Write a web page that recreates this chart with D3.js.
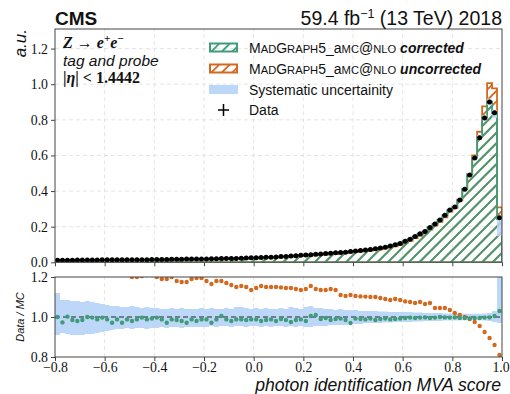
<!DOCTYPE html>
<html lang="en">
<head>
<meta charset="utf-8">
<script src="https://cdn.jsdelivr.net/npm/d3@7"></script>
<style type="text/css">
body { margin: 0; background: #fff; }
svg text { fill: #111; }
.sans { font-family: "Liberation Sans", Arial, sans-serif; }
</style>
</head>
<body>
<script type="text/javascript">

// bin edges: 90 bins of 0.02 between -0.8 and 1.0
var binEdges = d3.range(91).map(function(i) { return -0.8 + 0.02 * i; });
var xTicks = [-0.8, -0.6, -0.4, -0.2, 0.0, 0.2, 0.4, 0.6, 0.8, 1.0];
var yTicksTop = [0.0, 0.2, 0.4, 0.6, 0.8, 1.0, 1.2];
var yTicksRatio = [0.8, 1.0, 1.2];

// normalised data (a.u.)
var dataVals = [
  0.012,0.012,0.012,0.012,0.013,0.013,0.013,0.013,0.013,0.014,
  0.014,0.014,0.014,0.014,0.015,0.015,0.015,0.015,0.015,0.016,
  0.016,0.016,0.016,0.017,0.017,0.017,0.018,0.018,0.018,0.019,
  0.019,0.020,0.020,0.021,0.021,0.022,0.022,0.023,0.024,0.025,
  0.026,0.027,0.028,0.029,0.030,0.032,0.033,0.035,0.037,0.039,
  0.041,0.043,0.045,0.047,0.049,0.051,0.053,0.055,0.057,0.060,
  0.063,0.066,0.069,0.072,0.076,0.080,0.085,0.091,0.098,0.106,
  0.118,0.130,0.145,0.160,0.173,0.196,0.215,0.238,0.264,0.294,
  0.310,0.350,0.410,0.490,0.585,0.700,0.810,0.900,0.840,0.250];

// data / MC, corrected
var ratioCorr = [
  1.000,0.973,1.002,0.985,0.980,0.985,1.000,0.997,0.988,0.997,
  0.988,0.971,0.988,0.971,0.988,0.980,0.988,0.997,0.988,0.992,
  0.997,0.988,0.971,0.988,0.985,0.980,0.971,0.988,0.980,0.988,
  0.988,0.971,0.988,1.005,0.988,0.980,0.988,0.988,0.985,0.988,
  0.988,0.980,0.985,0.988,0.980,0.990,0.985,0.975,0.985,0.988,
  0.980,1.005,1.010,0.990,0.995,0.985,0.990,0.992,0.985,0.970,
  0.992,0.990,0.988,0.992,0.985,0.990,0.992,0.988,0.990,0.992,
  0.995,0.997,0.995,0.997,0.998,0.995,0.997,1.000,0.998,0.997,
  0.998,0.995,0.995,0.993,0.995,0.995,0.997,0.998,1.005,1.030];

// data / MC, uncorrected
var ratioUncorr = [
  1.40,1.38,1.36,1.34,1.33,1.31,1.30,1.29,1.28,1.27,
  1.26,1.25,1.24,1.23,1.22,1.20,1.20,1.205,1.21,1.21,
  1.20,1.19,1.19,1.20,1.18,1.175,1.175,1.19,1.195,1.195,
  1.18,1.165,1.18,1.18,1.17,1.16,1.15,1.155,1.15,1.135,
  1.145,1.155,1.15,1.15,1.15,1.148,1.145,1.145,1.14,1.135,
  1.14,1.155,1.14,1.135,1.135,1.14,1.135,1.11,1.105,1.11,
  1.105,1.103,1.102,1.10,1.10,1.095,1.09,1.085,1.09,1.085,
  1.078,1.075,1.07,1.075,1.065,1.07,1.045,1.045,1.045,1.035,
  1.02,1.01,1.0,0.99,0.975,0.955,0.925,0.895,0.86,0.81];

// systematic uncertainty (relative), up and down
var sysUp = [
  0.12,0.085,0.085,0.08,0.08,0.075,0.08,0.075,0.07,0.065,
  0.06,0.055,0.055,0.05,0.05,0.055,0.05,0.045,0.05,0.045,
  0.045,0.04,0.04,0.045,0.04,0.045,0.04,0.04,0.04,0.045,
  0.04,0.045,0.04,0.04,0.045,0.04,0.05,0.05,0.045,0.04,
  0.045,0.04,0.045,0.04,0.04,0.045,0.04,0.05,0.045,0.04,
  0.05,0.055,0.045,0.045,0.04,0.04,0.035,0.04,0.035,0.035,
  0.035,0.03,0.03,0.03,0.03,0.028,0.028,0.025,0.025,0.025,
  0.025,0.025,0.022,0.022,0.02,0.02,0.02,0.02,0.018,0.018,
  0.018,0.016,0.016,0.016,0.016,0.016,0.018,0.02,0.03,0.40];
var sysDn = [
  0.09,0.08,0.085,0.09,0.09,0.09,0.085,0.085,0.08,0.075,
  0.07,0.065,0.06,0.06,0.055,0.06,0.055,0.055,0.06,0.055,
  0.055,0.05,0.055,0.05,0.05,0.055,0.05,0.05,0.05,0.05,
  0.05,0.045,0.05,0.045,0.045,0.05,0.045,0.045,0.05,0.045,
  0.045,0.05,0.045,0.05,0.045,0.045,0.05,0.045,0.05,0.045,
  0.05,0.05,0.045,0.045,0.045,0.04,0.04,0.04,0.04,0.035,
  0.035,0.035,0.03,0.03,0.03,0.03,0.028,0.028,0.025,0.025,
  0.025,0.025,0.022,0.022,0.02,0.02,0.02,0.02,0.018,0.018,
  0.018,0.016,0.016,0.016,0.016,0.016,0.018,0.02,0.025,0.03];

var green = "#3f9c78", orange = "#d2691e", blue = "#bcd7f8";
var serif = "'Liberation Serif', 'DejaVu Serif', serif";

var width = 510, height = 394;
var svg = d3.select("body").append("svg")
  .attr("width", width).attr("height", height);

var x = d3.scaleLinear().domain([-0.8, 1.0]).range([55, 502]);
var yTop = d3.scaleLinear().domain([0, 1.31]).range([262.3, 29]);
var yRat = d3.scaleLinear().domain([0.8, 1.2]).range([357, 277]);

// MC histograms as implied by data / ratio
var mcCorr = dataVals.map(function(d, i) { return d / ratioCorr[i]; });
var mcUncorr = dataVals.map(function(d, i) { return d / ratioUncorr[i]; });

var defs = svg.append("defs");
function hatch(id, col) {
  var p = defs.append("pattern").attr("id", id)
    .attr("patternUnits", "userSpaceOnUse")
    .attr("width", 7.4).attr("height", 7.4)
    .attr("patternTransform", "rotate(45)");
  p.append("line").attr("x1", 0).attr("y1", 0).attr("x2", 0).attr("y2", 7.4)
    .attr("stroke", col).attr("stroke-width", 3.6);
}
hatch("hatchG", green);
hatch("hatchO", orange);
defs.append("clipPath").attr("id", "clipTop").append("rect")
  .attr("x", 55).attr("y", 29).attr("width", 447).attr("height", 233.3);
defs.append("clipPath").attr("id", "clipRat").append("rect")
  .attr("x", 55).attr("y", 277).attr("width", 447).attr("height", 80);

function stepPts(lo, hi) {
  return binEdges.map(function(e, i) {
    var k = Math.min(i, lo.length - 1);
    return { x: e, lo: lo[k], hi: hi[k] };
  });
}
var zeros = dataVals.map(function() { return 0; });

function grid(g, yScale, yt) {
  g.selectAll(".gx").data(xTicks.slice(1, -1)).enter().append("line")
    .attr("x1", function(d) { return x(d); }).attr("x2", function(d) { return x(d); })
    .attr("y1", yScale.range()[0]).attr("y2", yScale.range()[1])
    .attr("stroke", "#ddd").attr("stroke-dasharray", "4,3").attr("stroke-width", 0.8);
  g.selectAll(".gy").data(yt).enter().append("line")
    .attr("x1", 55).attr("x2", 502)
    .attr("y1", function(d) { return yScale(d); }).attr("y2", function(d) { return yScale(d); })
    .attr("stroke", "#ddd").attr("stroke-dasharray", "4,3").attr("stroke-width", 0.8);
}
function styleAxis(g) {
  g.select(".domain").remove();
  g.attr("font-family", null).attr("font-size", null);
  g.selectAll(".tick line").attr("stroke", "#444");
  g.selectAll(".tick text").attr("fill", "#222")
    .style("font-family", serif).style("font-size", "13.8px");
}

// ---------- upper panel ----------
var topG = svg.append("g");
grid(topG, yTop, yTicksTop.slice(1));
var plotTop = topG.append("g").attr("clip-path", "url(#clipTop)");

var areaTop = d3.area().curve(d3.curveStepAfter)
  .x(function(d) { return x(d.x); })
  .y0(function(d) { return yTop(d.lo); })
  .y1(function(d) { return yTop(d.hi); });

plotTop.append("path").datum(stepPts(zeros, mcUncorr)).attr("d", areaTop)
  .attr("fill", "url(#hatchO)").attr("stroke", orange).attr("stroke-width", 1.8);
plotTop.append("path").datum(stepPts(zeros, mcCorr)).attr("d", areaTop)
  .attr("fill", "url(#hatchG)").attr("stroke", green).attr("stroke-width", 1.8);
plotTop.append("path")
  .datum(stepPts(mcCorr.map(function(d, i) { return d * (1 - sysUp[i]); }),
                 mcCorr.map(function(d, i) { return d * (1 + sysDn[i]); })))
  .attr("d", areaTop).attr("fill", blue).attr("opacity", 0.85);

var pts = plotTop.selectAll(".pt").data(dataVals).enter().append("g");
pts.append("line")
  .attr("x1", function(d, i) { return x(binEdges[i]); })
  .attr("x2", function(d, i) { return x(binEdges[i + 1]); })
  .attr("y1", function(d) { return yTop(d); }).attr("y2", function(d) { return yTop(d); })
  .attr("stroke", "#000").attr("stroke-width", 1.4);
pts.append("circle")
  .attr("cx", function(d, i) { return x(binEdges[i] + 0.01); })
  .attr("cy", function(d) { return yTop(d); })
  .attr("r", 2.5).attr("fill", "#000");

topG.append("g").attr("transform", "translate(55,0)")
  .call(d3.axisLeft(yTop).tickValues(yTicksTop).tickFormat(d3.format(".1f")).tickSize(4).tickPadding(3))
  .call(styleAxis);
topG.append("g").attr("transform", "translate(0,262.3)")
  .call(d3.axisBottom(x).tickValues(xTicks).tickFormat("").tickSize(4))
  .call(styleAxis);
topG.append("rect").attr("x", 55).attr("y", 29).attr("width", 447).attr("height", 233.3)
  .attr("fill", "none").attr("stroke", "#444").attr("stroke-width", 1);

// ---------- ratio panel ----------
var botG = svg.append("g");
grid(botG, yRat, []);
var plotRat = botG.append("g").attr("clip-path", "url(#clipRat)");
var areaRat = d3.area().curve(d3.curveStepAfter)
  .x(function(d) { return x(d.x); })
  .y0(function(d) { return yRat(d.lo); })
  .y1(function(d) { return yRat(d.hi); });
plotRat.append("path")
  .datum(stepPts(sysDn.map(function(d) { return 1 - d; }), sysUp.map(function(d) { return 1 + d; })))
  .attr("d", areaRat).attr("fill", blue);
plotRat.append("line").attr("x1", 55).attr("x2", 502)
  .attr("y1", yRat(1)).attr("y2", yRat(1))
  .attr("stroke", "#222").attr("stroke-dasharray", "5,3").attr("stroke-width", 1.2);
plotRat.selectAll(".ru").data(ratioUncorr).enter().append("circle")
  .attr("cx", function(d, i) { return x(binEdges[i] + 0.01); })
  .attr("cy", function(d) { return yRat(d); })
  .attr("r", 2.2).attr("fill", orange);
plotRat.selectAll(".rc").data(ratioCorr).enter().append("circle")
  .attr("cx", function(d, i) { return x(binEdges[i] + 0.01); })
  .attr("cy", function(d) { return yRat(d); })
  .attr("r", 2.2).attr("fill", green);

botG.append("g").attr("transform", "translate(55,0)")
  .call(d3.axisLeft(yRat).tickValues(yTicksRatio).tickFormat(d3.format(".1f")).tickSize(4).tickPadding(3))
  .call(styleAxis);
botG.append("g").attr("transform", "translate(0,357)")
  .call(d3.axisBottom(x).tickValues(xTicks).tickFormat(d3.format(".1f")).tickSize(4).tickPadding(1))
  .call(styleAxis)
  .call(function(g) { g.selectAll(".tick:last-of-type text").attr("dx", -1.5); });
botG.append("rect").attr("x", 55).attr("y", 277).attr("width", 447).attr("height", 80)
  .attr("fill", "none").attr("stroke", "#444").attr("stroke-width", 1);

// ---------- labels ----------
svg.append("text").attr("class", "sans").attr("x", 55).attr("y", 25)
  .attr("font-size", 19).attr("font-weight", "bold").text("CMS");
var lumi = svg.append("text").attr("class", "sans").attr("x", 502).attr("y", 25)
  .attr("text-anchor", "end").attr("font-size", 19.5);
lumi.append("tspan").text("59.4 fb");
lumi.append("tspan").attr("font-size", 12.5).attr("dy", -7).text("\u22121");
lumi.append("tspan").attr("dy", 7).text(" (13 TeV) 2018");

svg.append("text").attr("class", "sans").attr("transform", "translate(26,29) rotate(-90)")
  .attr("text-anchor", "end").attr("font-size", 17).attr("font-style", "italic").text("a.u.");
svg.append("text").attr("class", "sans").attr("transform", "translate(24,317) rotate(-90)")
  .attr("text-anchor", "middle").attr("font-size", 11).attr("font-style", "italic").text("Data / MC");
svg.append("text").attr("class", "sans").attr("x", 501).attr("y", 391)
  .attr("text-anchor", "end").attr("font-size", 17.6).attr("font-style", "italic")
  .text("photon identification MVA score");

// process annotation
var ann = svg.append("g");
var z = ann.append("text").attr("x", 63).attr("y", 48).attr("font-size", 16)
  .attr("font-family", serif).attr("font-weight", "bold").attr("font-style", "italic");
z.append("tspan").text("Z \u2192 e");
z.append("tspan").attr("font-size", 11).attr("dy", -6).text("+");
z.append("tspan").attr("dy", 6).text("e");
z.append("tspan").attr("font-size", 11).attr("dy", -6).text("\u2212");
ann.append("text").attr("class", "sans").attr("x", 63).attr("y", 66)
  .attr("font-size", 15.5).attr("font-style", "italic").text("tag and probe");
var eta = ann.append("text").attr("x", 63).attr("y", 83).attr("font-size", 16)
  .attr("font-family", serif).attr("font-weight", "bold");
eta.append("tspan").text("|");
eta.append("tspan").attr("font-style", "italic").text("\u03b7");
eta.append("tspan").text("| < 1.4442");

// legend
var leg = svg.append("g").attr("class", "sans").attr("font-size", 14);
var legRows = [47.5, 68.5, 89.5, 110];
leg.append("rect").attr("x", 210).attr("y", legRows[0] - 4).attr("width", 27).attr("height", 8)
  .attr("fill", "url(#hatchG)").attr("stroke", green).attr("stroke-width", 2);
leg.append("rect").attr("x", 210).attr("y", legRows[1] - 4).attr("width", 27).attr("height", 8)
  .attr("fill", "url(#hatchO)").attr("stroke", orange).attr("stroke-width", 2);
leg.append("rect").attr("x", 209).attr("y", legRows[2] - 4.5).attr("width", 29).attr("height", 9)
  .attr("fill", blue);
leg.append("line").attr("x1", 218).attr("x2", 229).attr("y1", legRows[3]).attr("y2", legRows[3])
  .attr("stroke", "#000").attr("stroke-width", 1.5);
leg.append("line").attr("x1", 223.5).attr("x2", 223.5).attr("y1", legRows[3] - 6).attr("y2", legRows[3] + 6)
  .attr("stroke", "#000").attr("stroke-width", 1.5);

// generator name in small capitals: [text, is full-size]
var mgParts = [["M", 1], ["AD", 0], ["G", 1], ["RAPH", 0], ["5_a", 1], ["MC", 0], ["@", 1], ["NLO", 0]];
var legLabels = [["corrected"], ["uncorrected"], ["Systematic uncertainity"], ["Data"]];
legLabels.forEach(function(l, i) {
  var t = leg.append("text").attr("x", 249).attr("y", legRows[i] + 5);
  if (i < 2) {
    mgParts.forEach(function(p) {
      t.append("tspan").attr("font-size", p[1] ? 14 : 11.2).text(p[0]);
    });
    t.append("tspan").attr("font-weight", "bold").attr("font-style", "italic").text(" " + l[0]);
  } else {
    t.text(l[0]);
  }
});

</script>
</body>
</html>
